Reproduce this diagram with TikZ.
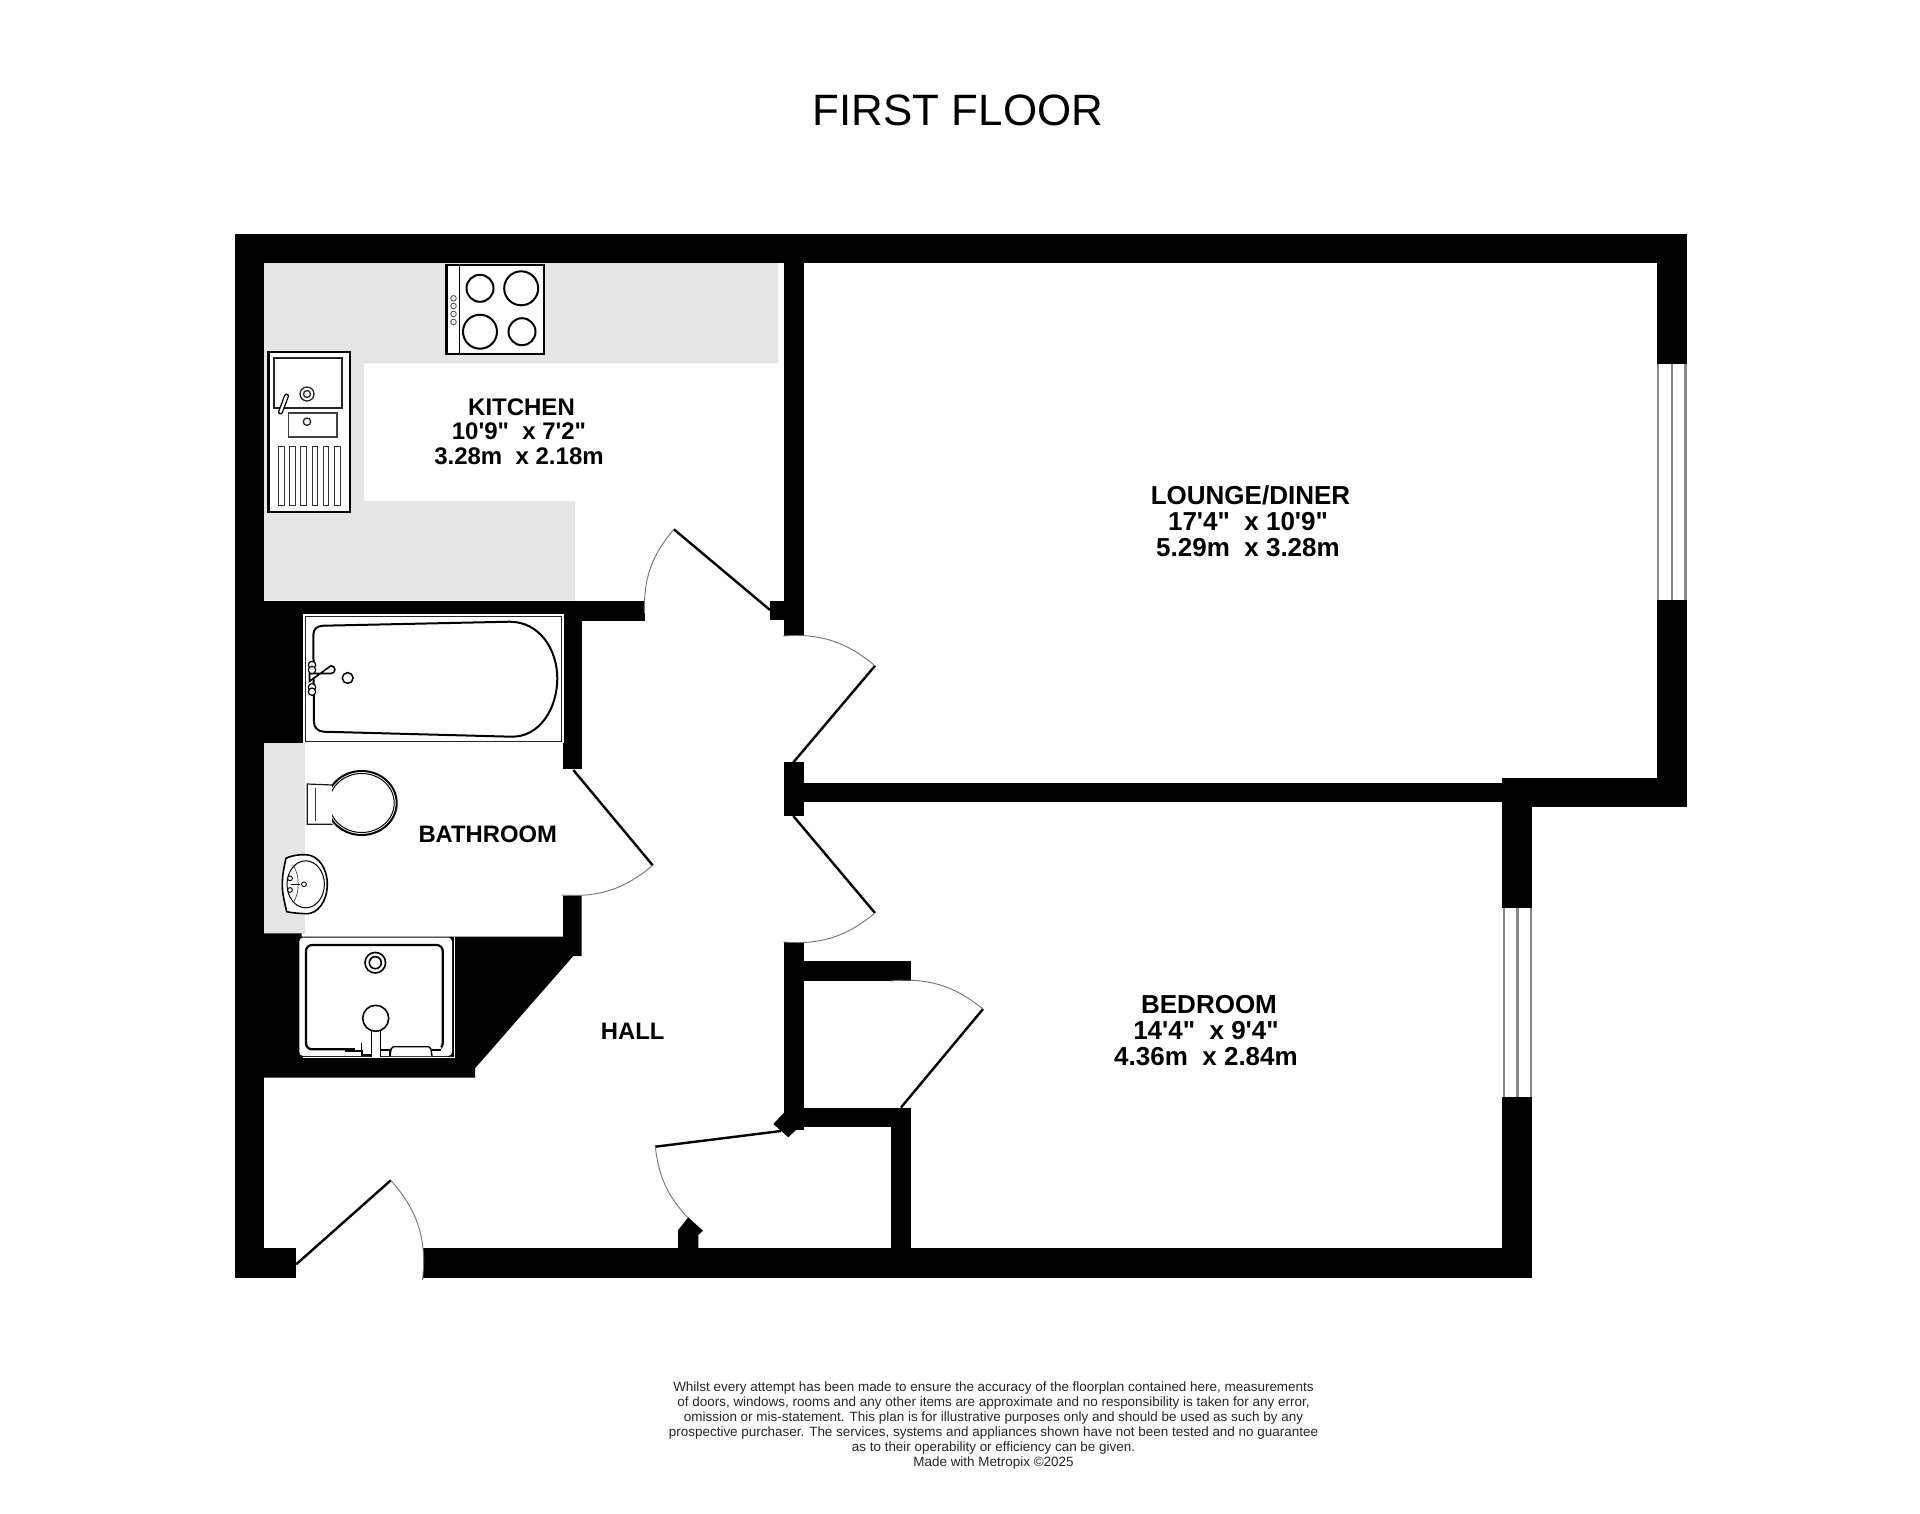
\documentclass[tikz,border=0pt]{standalone}
\usepackage{fontspec}
\newfontfamily\planfont{Liberation Sans}
\begin{document}
\begin{tikzpicture}[
                x=1pt, y=-1pt,
                wall/.style={fill=black},
                worktop/.style={fill=black!10},
                leaf/.style={line width=2.4pt},
                swing/.style={draw=black!55, line width=0.9pt},
                windowline/.style={draw=black!47, line width=2.4pt},
                fitting/.style={draw=black, line width=2pt, fill=white},
                fine/.style={draw=black, line width=1.2pt, fill=white},
                roomlabel/.style={align=center, inner sep=0pt, font=\planfont\bfseries\fontsize{26}{26}\selectfont},
                smalllabel/.style={align=center, inner sep=0pt, font=\planfont\bfseries\fontsize{24}{24.2}\selectfont}
            ]
                \useasboundingbox (0,0) rectangle (1920,1513);
                % floor finishes
                \fill[worktop] (264,263) -| (778.4,363.3) -| (364,501) -| (575,600.7) -| cycle;
                \fill[worktop] (264,743) rectangle (305,934);
                % outer walls
                \fill[wall] (234.7,234) rectangle (1686.7,263.4);
                \fill[wall] (234.7,234) rectangle (264.3,1278.3);
                \fill[wall] (234.7,1248.3) rectangle (296.2,1278.3);
                \fill[wall] (422.5,1248.3) rectangle (1532.3,1278.3);
                \fill[wall] (1656.7,234) rectangle (1686.7,363.8);
                \fill[wall] (1656.7,600.2) rectangle (1686.7,807.2);
                \fill[wall] (1502.3,777.7) rectangle (1686.7,807.2);
                \fill[wall] (1502.3,777.7) rectangle (1532.3,907.5);
                \fill[wall] (1502.3,1096.9) rectangle (1532.3,1278.3);
                % inner walls
                \fill[wall] (783.5,263) rectangle (803.5,636);
                \fill[wall] (770,600.7) rectangle (784,620);
                \fill[wall] (783.5,762.4) rectangle (803.5,816);
                \fill[wall] (803,782.5) rectangle (1503,802.3);
                \fill[wall] (783.5,942) rectangle (803.5,1130);
                \fill[wall] (803,961) rectangle (911,980.5);
                \fill[wall] (803,1107.5) rectangle (911,1127);
                \fill[wall] (891.2,1107.5) rectangle (911,1250);
                \fill[wall] (773.3,1124) -- (788.4,1108) -- (800.8,1125) -- (788.4,1137.3) -- cycle;
                \fill[wall] (678.2,1249) -- (678.2,1230) -- (688.3,1217.3) -- (703,1230.7) -- (698.4,1235) -- (698.4,1249) -- cycle;
                \fill[wall] (264,600.7) rectangle (644.5,620.7);
                \fill[wall] (264,600.7) rectangle (303.3,743.3);
                \fill[wall] (563,600.7) rectangle (581.7,769);
                \fill[wall] (563,895.7) -- (581.7,895.7) -- (581.7,956) -- (573.3,956) -- (475,1068.3) -- (475,1077.7) -- (264,1077.7) -- (264,933.3) -- (301.7,933.3) -- (301.7,936.7) -- (563,936.7) -- cycle;
                % windows
                \foreach \winx in {1658,1671.7,1685.5} \draw[windowline] (\winx,363.8) -- (\winx,600.2);
                \foreach \winx in {1503.7,1517.3,1531} \draw[windowline] (\winx,907.5) -- (\winx,1096.9);
                % doors
                \draw[leaf] (770,610) -- (673.9,529.3);
                \draw[swing] (673.9,529.3) to[bend right=21] (644.5,613);
                \draw[leaf] (793.3,762.4) -- (875,665.8);
                \draw[swing] (875,665.8) to[bend right=22] (783,636);
                \draw[leaf] (793.3,816) -- (875,913);
                \draw[swing] (875,913) to[bend left=22] (783.3,942);
                \draw[leaf] (573.3,770) -- (652.7,865.3);
                \draw[swing] (652.7,865.3) to[bend left=22] (561.7,895);
                \draw[leaf] (901,1107.5) -- (983,1009);
                \draw[swing] (983,1009) to[bend right=22] (890,981);
                \draw[leaf] (296.2,1264.3) -- (390.8,1180.3);
                \draw[swing] (390.8,1180.3) to[bend left=24] (422.5,1280);
                \draw[leaf] (781,1131) -- (655.3,1146.7);
                \draw[swing] (655.3,1146.7) to[bend right=18] (688.3,1218.3);
                % hob
                \draw[fitting, line width=2.4pt] (446.5,265) rectangle (543.7,354);
                \draw[line width=1.2pt] (459.6,265) -- (459.6,354);
                \draw[fine, line width=2pt] (480,288.3) circle[radius=13.5];
                \draw[fine, line width=2pt] (521.2,288.3) circle[radius=17];
                \draw[fine, line width=2pt] (480,331.7) circle[radius=17];
                \draw[fine, line width=2pt] (522,331.7) circle[radius=13.5];
                \foreach \knoby in {298.3,306,314,322} \draw[draw=black!65, line width=0.9pt] (453.5,\knoby) circle[radius=2.8];
                % sink
                \draw[fitting, line width=2.2pt] (268.5,351.7) rectangle (350,512.3);
                \draw[draw=black!85, line width=1.6pt] (273.8,408.2) -- (273.8,357.7) -- (342.2,357.7) -- (342.2,408.2) -- cycle;
                \draw[draw=black!75, line width=1.8pt] (288.5,413.3) rectangle (337.3,436.7);
                \draw[draw=black!85, line width=1.3pt] (307,394) circle[radius=7];
                \draw[draw=black!85, line width=1.3pt] (307,394) circle[radius=3.5];
                \draw[draw=black!85, line width=1.3pt] (307,421.7) circle[radius=3.7];
                \draw[line width=5pt, line cap=round] (286.5,396) -- (280.5,412);
                \draw[white, line width=2.4pt, line cap=round] (286.5,396) -- (280.5,412);
                \foreach \slot in {0,...,5} \draw[draw=black!80, line width=1pt] (278.4+\slot*11.2,446.7) rectangle (284.1+\slot*11.2,505);
                % bath
                \draw[fill=white, draw=white, line width=1pt] (303.5,614.5) rectangle (563,742.5);
                \draw[draw=black!85, line width=1pt] (305.5,616.5) rectangle (561.5,741);
                \draw[fitting] (323.3,625.7) -- (510,621.7) .. controls (540,622) and (557.3,650) .. (557.3,678.3) .. controls (557.3,708) and (540,737) .. (511.7,736.7) -- (323.3,731.7) .. controls (317,731) and (314,727) .. (314,722) -- (313.3,635) .. controls (313.3,629) and (317,626) .. (323.3,625.7) -- cycle;
                \draw[fine, line width=1.6pt] (309.5,673.5) -- (331,673.5) arc[start angle=90, end angle=-90, radius=3.9] -- (309.5,681.3) -- cycle;
                \foreach \tapy in {665,670,687.3,691.7} \draw[fine] (312,\tapy) circle[radius=3.7];
                \draw[fine, line width=1.5pt] (347.7,678) circle[radius=5.4];
                % toilet
                \draw[fitting] (361.7,803) ellipse[x radius=35, y radius=32];
                \draw[draw=black, line width=1pt] (361.7,803) ellipse[x radius=32.5, y radius=29.5];
                \fill[white] (308,785) rectangle (331.7,824);
                \draw[draw=black!90, line width=1.2pt] (332.5,785) -- (307.3,784) -- (307.3,824.3) -- (332.5,824.3);
                \draw[draw=black!80, line width=1pt] (315,788.3) -- (315,821);
                % basin
                \draw[fine, line width=1.6pt] (286,858.3) .. controls (293,855) and (300,854.5) .. (306,854.7) .. controls (318,855) and (327.3,868) .. (327.3,884.3) .. controls (327.3,902) and (317,914) .. (306.7,913.7) .. controls (300,913.5) and (293,913) .. (286.7,911.7) .. controls (284,900) and (282.3,893) .. (282.3,885) .. controls (282.3,875) and (284,867) .. (286,858.3) -- cycle;
                \draw[draw=black, line width=1pt] (305.7,884.3) ellipse[x radius=18.7, y radius=23.5];
                \draw[draw=black!70, line width=0.7pt] (293,865) .. controls (300,875) and (300,893) .. (293,903);
                \draw[draw=black, line width=1.5pt] (291,884.3) -- (300,884.3);
                \foreach \tapy in {878.3,890} \draw[fine, line width=0.9pt] (290,\tapy) circle[radius=2.4];
                \draw[fine, line width=0.9pt] (304,884.3) circle[radius=2.4];
                % shower
                \draw[white, line width=1pt] (303,1057.7) -- (454.3,1057.7) -- (454.3,936.7);
                \fill[white, rounded corners=4pt] (299.3,937.5) rectangle (452,1056);
                \draw[draw=black, line width=2.2pt, rounded corners=6pt] (306,945) rectangle (442.7,1049.3);
                \draw[fine, line width=1.6pt] (375.3,962.7) circle[radius=10.3];
                \draw[fine, line width=1.6pt] (375.3,962.7) circle[radius=6];
                \fill[white] (355,1047) rectangle (441,1056);
                \draw[line width=1.4pt] (361.7,1043.3) -- (361.7,1055);
                \draw[line width=1.4pt] (345,1051) -- (362,1051) -- (362,1055) -- (372,1055);
                \draw[line width=1.4pt] (380,1050) -- (390,1050) -- (390,1056);
                \draw[line width=1.6pt] (441,1050) -- (432,1050);
                \draw[fine, line width=1.4pt, rounded corners=2pt] (390,1056) -- (391.5,1046.7) -- (430.5,1046.7) -- (432,1056);
                \draw[fine, line width=1.5pt] (371.7,1056.7) -- (371.7,1029) -- (380.3,1029) -- (380.3,1056.7);
                \draw[fine, line width=1.6pt] (375.7,1018.3) circle[radius=13];
                % labels
                \node[font=\planfont\fontsize{43.9}{44}\selectfont, inner sep=0pt] (title) at (958,110.5) {FIRST FLOOR};
                \node[smalllabel] (kitchen) at (519,431.7) {\hspace*{5pt}KITCHEN\\10'9"\ \ x 7'2"\\3.28m\ \ x 2.18m};
                \node[roomlabel] (lounge) at (1248,521.3) {\hspace*{5pt}LOUNGE/DINER\\17'4"\ \ x 10'9"\\5.29m\ \ x 3.28m};
                \node[roomlabel] (bedroom) at (1206,1031) {\hspace*{6pt}BEDROOM\\14'4"\ \ x 9'4"\\4.36m\ \ x 2.84m};
                \node[smalllabel, font=\planfont\bfseries\fontsize{23.8}{24}\selectfont] (bathroom) at (487.7,834.3) {BATHROOM};
                \node[smalllabel, font=\planfont\bfseries\fontsize{23.8}{24}\selectfont] (hall) at (632.7,1031.7) {HALL};
                \node[align=center, inner sep=0pt, text=black!85, font=\planfont\fontsize{13.46}{15}\selectfont] (disclaimer) at (993.5,1426) {Whilst every attempt has been made to ensure the accuracy of the floorplan contained here, measurements\\of doors, windows, rooms and any other items are approximate and no responsibility is taken for any error,\\omission or mis-statement. This plan is for illustrative purposes only and should be used as such by any\\prospective purchaser. The services, systems and appliances shown have not been tested and no guarantee\\as to their operability or efficiency can be given.\\Made with Metropix ©2025};
            \end{tikzpicture}
\end{document}
